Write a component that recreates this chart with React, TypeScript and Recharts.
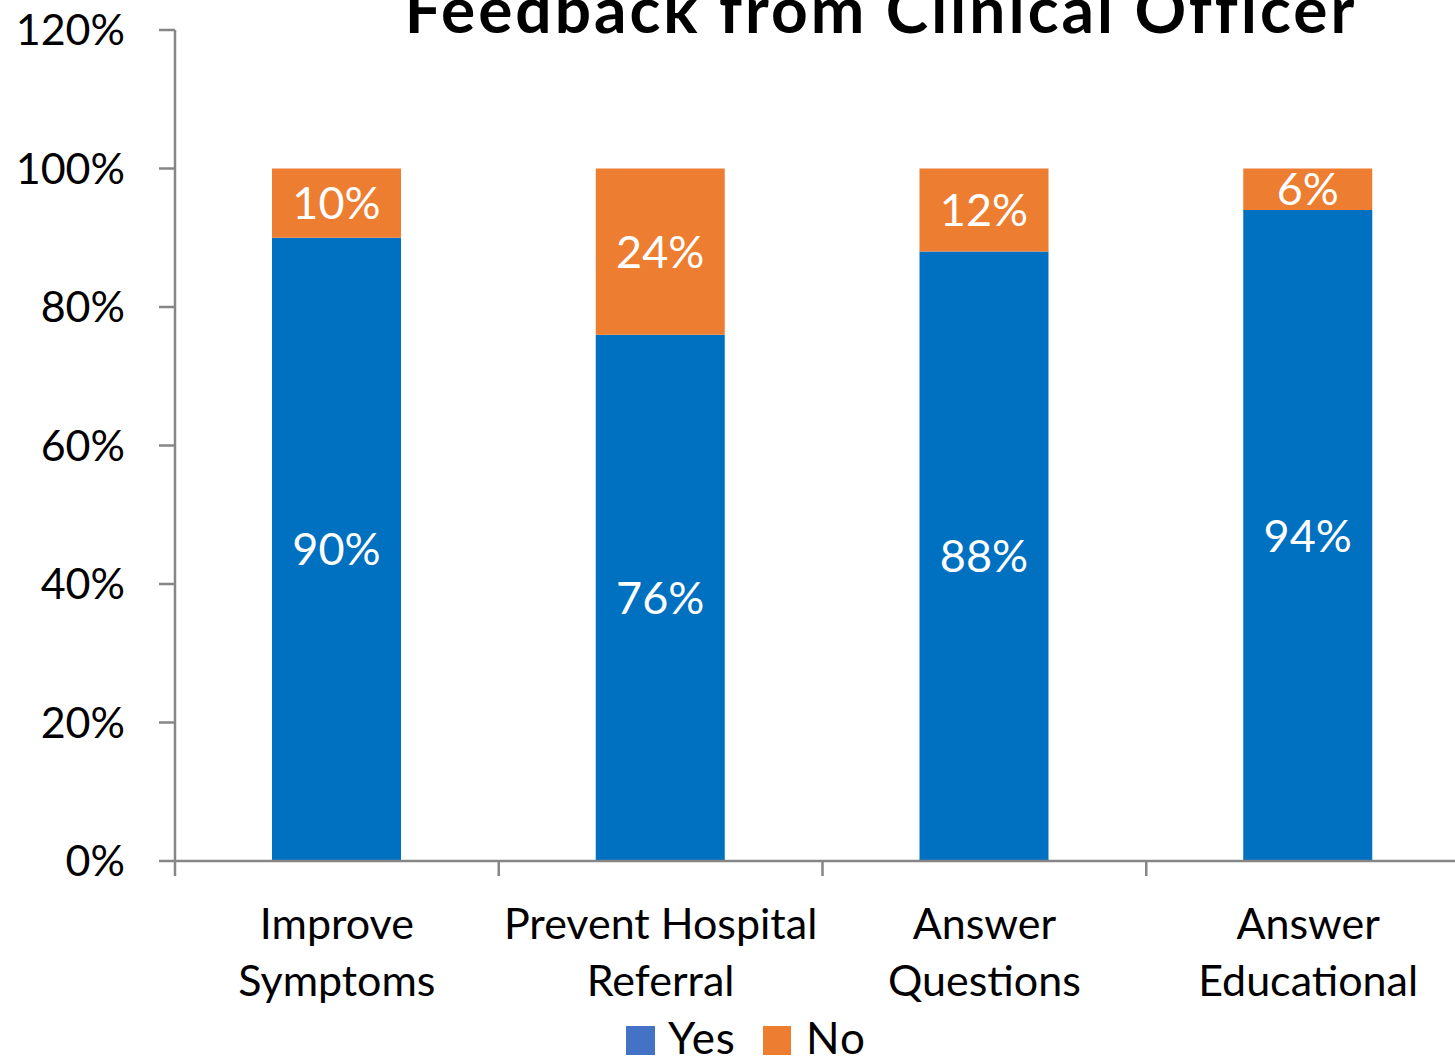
import React from 'react';
import { BarChart, Bar, XAxis, YAxis, LabelList } from 'recharts';

const categories = ['Improve Symptoms', 'Prevent Hospital Referral', 'Answer Questions', 'Answer Educational'];
const categoryLines = [
  ['Improve', 'Symptoms'],
  ['Prevent Hospital', 'Referral'],
  ['Answer', 'Questions'],
  ['Answer', 'Educational'],
];
const yesValues = [90, 76, 88, 94];
const noValues = [10, 24, 12, 6];
const yTicks = [0, 20, 40, 60, 80, 100, 120];
const title = 'Feedback from Clinical Officer';

const FONT = 'Lato, "Noto Sans", sans-serif';
const AXIS_GRAY = '#868686';
const YES_BAR = '#0070C0';
const YES_LEGEND = '#4472C4';
const NO_COLOR = '#ED7D31';

const CHART_W = 1470;
const CHART_H = 1064;
const LEFT = 175;
const TOP = 30;
const AXIS_Y = 861;
const band = (CHART_W - LEFT) / categories.length;

const data = categories.map((name, i) => ({ name, yes: yesValues[i], no: noValues[i] }));

const CategoryTick = (props: any) => {
  const { x, y, index } = props;
  const lines = categoryLines[index] || [];
  return (
    <g>
      <line x1={x - band / 2} x2={x - band / 2} y1={y} y2={y + 15} stroke={AXIS_GRAY} strokeWidth={2.5} />
      <text textAnchor="middle" fontSize={43} fontFamily={FONT} fill="#000">
        {lines.map((l: string, i: number) => (
          <tspan key={i} x={x} y={y + 78 + i * 57}>
            {l}
          </tspan>
        ))}
      </text>
    </g>
  );
};

export default function App() {
  return (
    <div style={{ position: 'absolute', left: 0, top: 0, width: 1455, height: 1064, overflow: 'hidden', background: '#fff' }}>
      <BarChart
        width={CHART_W}
        height={CHART_H}
        data={data}
        margin={{ top: TOP, right: 0, left: 0, bottom: 0 }}
        barSize={129}
      >
        <XAxis
          dataKey="name"
          height={CHART_H - AXIS_Y}
          tickLine={false}
          tickSize={0}
          tickMargin={0}
          interval={0}
          axisLine={{ stroke: AXIS_GRAY, strokeWidth: 2.5 }}
          tick={<CategoryTick />}
        />
        <YAxis
          width={LEFT}
          domain={[0, 120]}
          ticks={yTicks}
          tickFormatter={(v: number) => `${v}%`}
          tickSize={16}
          tickMargin={34}
          axisLine={{ stroke: AXIS_GRAY, strokeWidth: 2.5 }}
          tickLine={{ stroke: AXIS_GRAY, strokeWidth: 2.5 }}
          tick={{ fill: '#000', fontSize: 43, fontFamily: FONT }}
        />
        <Bar dataKey="yes" stackId="a" fill={YES_BAR} isAnimationActive={false}>
          <LabelList
            dataKey="yes"
            position="center"
            formatter={(v: any) => `${v}%`}
            fill="#fff"
            fontSize={45}
            fontFamily={FONT}
          />
        </Bar>
        <Bar dataKey="no" stackId="a" fill={NO_COLOR} isAnimationActive={false}>
          <LabelList
            dataKey="no"
            position="center"
            formatter={(v: any) => `${v}%`}
            fill="#fff"
            fontSize={45}
            fontFamily={FONT}
          />
        </Bar>
      </BarChart>
      <svg width={1455} height={1064} style={{ position: 'absolute', left: 0, top: 0, pointerEvents: 'none' }}>
        <text x={881} y={33} textAnchor="middle" fontSize={64} letterSpacing={3} fontWeight="bold" fontFamily={FONT} fill="#000">
          {title}
        </text>
        <rect x={626} y={1026} width={29} height={29} fill={YES_LEGEND} />
        <text x={668} y={1054} fontSize={44} letterSpacing={1} fontFamily={FONT} fill="#000">Yes</text>
        <rect x={763} y={1026} width={28} height={29} fill={NO_COLOR} />
        <text x={806} y={1054} fontSize={44} letterSpacing={1} fontFamily={FONT} fill="#000">No</text>
      </svg>
    </div>
  );
}
